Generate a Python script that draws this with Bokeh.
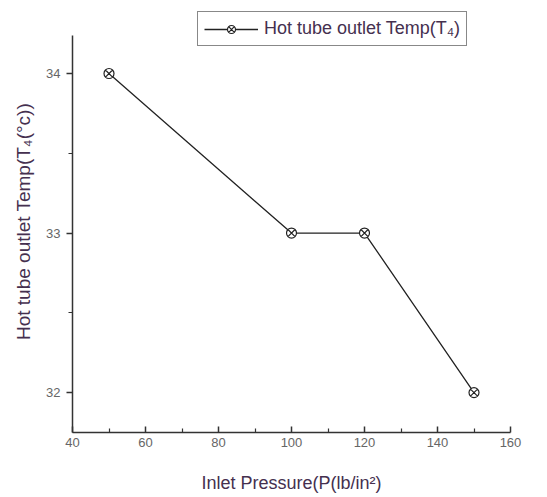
from bokeh.plotting import figure
from bokeh.models import FixedTicker, Legend, LegendItem, Range1d
from bokeh.embed import file_html
from bokeh.resources import INLINE

# Inlet pressure (lb/in^2) vs hot tube outlet temperature T4 (deg C)
pressure = [50, 100, 120, 150]
hot_temp = [34, 33, 33, 32]

x_ticks = [40, 60, 80, 100, 120, 140, 160]
x_minor = [50, 70, 90, 110, 130, 150]
y_ticks = [32, 33, 34]
y_minor = [32.5, 33.5]

FONT = "Liberation Sans"
TEXT = "#45304f"

# frame runs up to the canvas top so the legend box has room above the axis end
p = figure(width=547, height=497, output_backend="svg", toolbar_location=None,
           x_range=Range1d(40, 160), y_range=Range1d(31.75, 34.395),
           min_border_left=72, min_border_right=37, min_border_top=10, min_border_bottom=65)
p.outline_line_color = None
p.xgrid.visible = False
p.ygrid.visible = False
p.background_fill_color = "white"
p.border_fill_color = "white"

line = p.line(pressure, hot_temp, line_color="#222222", line_width=1.3)
pts = p.scatter(pressure, hot_temp, marker="circle_x", size=10,
                line_color="#222222", fill_color="white", line_width=1.2)

for ax in (p.xaxis[0], p.yaxis[0]):
    ax.axis_line_color = "#333333"
    ax.axis_line_width = 1.5
    ax.major_tick_line_color = "#333333"
    ax.minor_tick_line_color = "#333333"
    ax.major_tick_line_width = 1.5
    ax.minor_tick_line_width = 1.2
    ax.major_label_text_font = FONT
    ax.major_label_text_font_size = "13px"
    ax.major_label_text_color = "#666666"
    ax.axis_label_text_font = FONT
    ax.axis_label_text_font_style = "normal"
    ax.axis_label_text_color = TEXT

p.xaxis.ticker = FixedTicker(ticks=x_ticks, minor_ticks=x_minor)
p.xaxis.major_tick_in = 6
p.xaxis.major_tick_out = 0
p.xaxis.minor_tick_in = 4
p.xaxis.minor_tick_out = 0
p.xaxis.major_label_standoff = 5
p.xaxis.axis_label = "Inlet Pressure(P(lb/in\u00b2)"
p.xaxis.axis_label_text_font_size = "18px"
p.xaxis.axis_label_standoff = 23

p.yaxis.ticker = FixedTicker(ticks=y_ticks, minor_ticks=y_minor)
p.yaxis.bounds = (31.75, 34.24)
p.yaxis.major_tick_in = 0
p.yaxis.major_tick_out = 6
p.yaxis.minor_tick_in = 0
p.yaxis.minor_tick_out = 4
p.yaxis.major_label_standoff = 6
p.yaxis.axis_label = "Hot tube outlet Temp(T\u2084(\u00b0c))"
p.yaxis.axis_label_text_font_size = "19px"
p.yaxis.axis_label_standoff = 9

legend = Legend(items=[LegendItem(label="Hot tube outlet Temp(T\u2084)", renderers=[line, pts])],
                location=(125, 386))
legend.border_line_color = "#111111"
legend.border_line_width = 1.5
legend.background_fill_alpha = 1
legend.label_text_font = FONT
legend.label_text_font_size = "18px"
legend.label_text_color = TEXT
legend.glyph_width = 54
legend.label_standoff = 6
legend.padding = 6
legend.margin = 0
p.add_layout(legend, "center")

open("out.html", "w").write(file_html(p, INLINE))
